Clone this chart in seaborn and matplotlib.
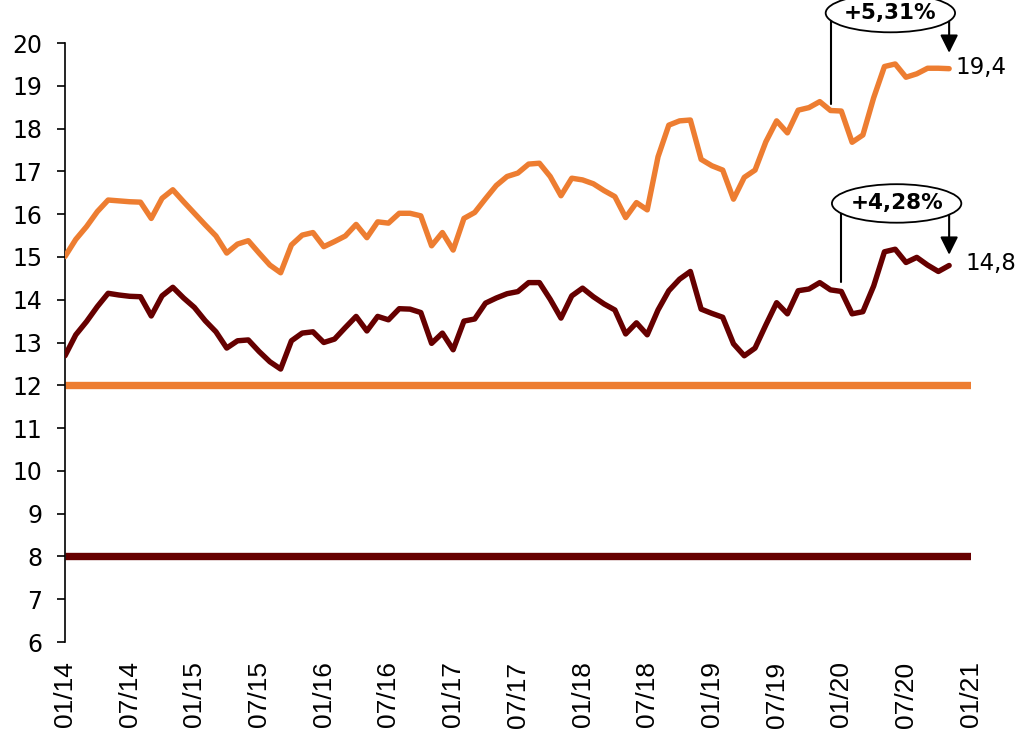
import numpy as np
import pandas as pd
import matplotlib
matplotlib.use("Agg")
import matplotlib.pyplot as plt
from matplotlib.patches import Ellipse
import seaborn as sns

# Monthly series, January 2014 .. November 2020
orange_series = [
    15.01, 15.41, 15.71, 16.06, 16.33, 16.31, 16.29, 16.28, 15.90, 16.37, 16.57, 16.29,
    16.02, 15.75, 15.49, 15.09, 15.30, 15.38, 15.09, 14.81, 14.63, 15.28, 15.51, 15.57,
    15.24, 15.36, 15.49, 15.76, 15.45, 15.82, 15.79, 16.02, 16.02, 15.96, 15.26, 15.57,
    15.16, 15.90, 16.04, 16.36, 16.67, 16.88, 16.96, 17.17, 17.19, 16.88, 16.43, 16.84,
    16.80, 16.71, 16.55, 16.41, 15.92, 16.27, 16.10, 17.34, 18.08, 18.18, 18.20, 17.28,
    17.13, 17.03, 16.35, 16.86, 17.03, 17.69, 18.18, 17.90, 18.43, 18.49, 18.63, 18.422,
    18.41, 17.68, 17.85, 18.72, 19.45, 19.51, 19.20, 19.28, 19.41, 19.41, 19.40,
]
dark_series = [
    12.69, 13.18, 13.49, 13.84, 14.15, 14.11, 14.08, 14.07, 13.62, 14.09, 14.29, 14.04,
    13.82, 13.51, 13.25, 12.87, 13.04, 13.06, 12.79, 12.55, 12.38, 13.04, 13.22, 13.25,
    13.00, 13.08, 13.35, 13.61, 13.27, 13.61, 13.53, 13.79, 13.78, 13.70, 12.98, 13.22,
    12.83, 13.50, 13.55, 13.92, 14.04, 14.14, 14.19, 14.40, 14.40, 14.01, 13.57, 14.09,
    14.27, 14.07, 13.90, 13.76, 13.20, 13.46, 13.18, 13.76, 14.21, 14.48, 14.66, 13.78,
    13.68, 13.59, 12.97, 12.69, 12.87, 13.41, 13.93, 13.67, 14.21, 14.25, 14.40, 14.23,
    14.193, 13.67, 13.72, 14.32, 15.12, 15.18, 14.87, 14.99, 14.81, 14.66, 14.80,
]
orange_floor = 12
dark_floor = 8

# Base months for the change labels (Dec 2019 and Jan 2020)
orange_base_idx = 71
dark_base_idx = 72

tick_labels = ["01/14", "07/14", "01/15", "07/15", "01/16", "07/16", "01/17", "07/17",
               "01/18", "07/18", "01/19", "07/19", "01/20", "07/20", "01/21"]

ORANGE = "#ED7D31"
DARK = "#660000"

months = np.arange(len(orange_series))
df = pd.DataFrame({"month": months, "orange": orange_series, "dark": dark_series})

sns.set_style("white")
plt.rcParams["font.family"] = ["DejaVu Sans"]
plt.rcParams["text.color"] = "black"
plt.rcParams["xtick.color"] = "black"
plt.rcParams["ytick.color"] = "black"
plt.rcParams["axes.labelcolor"] = "black"

fig = plt.figure(figsize=(10.21, 7.37), dpi=100)
ax = fig.add_axes([65 / 1021, 1 - 642 / 737, (970.7 - 65) / 1021, (642 - 43) / 737])

ax.axhline(orange_floor, color=ORANGE, lw=5.3, solid_capstyle="butt", zorder=2)
ax.axhline(dark_floor, color=DARK, lw=5.3, solid_capstyle="butt", zorder=2)

sns.lineplot(data=df, x="month", y="orange", ax=ax, color=ORANGE, lw=3.9, zorder=3)
sns.lineplot(data=df, x="month", y="dark", ax=ax, color=DARK, lw=3.9, zorder=3)
for ln in ax.lines[-2:]:
    ln.set_solid_capstyle("round")
    ln.set_solid_joinstyle("round")

ax.set_xlim(0, 84)
ax.set_ylim(6, 20)
ax.set_xlabel("")
ax.set_ylabel("")

ax.set_xticks(np.arange(0, 85, 6))
ax.set_xticklabels(tick_labels, rotation=90, fontsize=19, family="Liberation Sans",
                   color="black")
ax.set_yticks(np.arange(6, 21, 1))
ax.set_yticklabels([str(v) for v in range(6, 21)], fontsize=17, color="black")
ax.tick_params(axis="x", length=0, pad=14)
ax.tick_params(axis="y", direction="out", length=5.8, width=1.2, pad=10.5, color="black",
               left=True)

for side in ("top", "right", "bottom"):
    ax.spines[side].set_visible(False)
ax.spines["left"].set_color("black")
ax.spines["left"].set_linewidth(1.2)
ax.grid(False)


def change_label(series, base_idx, ell_x, ell_y, line_gap, tip_gap, val_dx, val_dy):
    last_idx = len(series) - 1
    last = series[last_idx]
    base = series[base_idx]
    pct = (last / base - 1) * 100
    txt = ("+%.2f%%" % pct).replace(".", ",")
    # vertical connector from the bubble down to the base month
    ax.plot([base_idx, base_idx], [ell_y, base + line_gap], color="black", lw=1.5,
            clip_on=False, zorder=4)
    # arrow from the bubble to the latest value
    ax.annotate("", xy=(last_idx, last + tip_gap), xytext=(last_idx, ell_y),
                arrowprops=dict(arrowstyle="-|>,head_length=0.4,head_width=0.2",
                                mutation_scale=27, color="black", lw=1.5,
                                shrinkA=0, shrinkB=0),
                annotation_clip=False, zorder=4)
    ell = Ellipse((ell_x, ell_y), width=12.0, height=0.9, facecolor="white",
                  edgecolor="black", lw=1.3, clip_on=False, zorder=5)
    ax.add_patch(ell)
    ax.text(ell_x, ell_y, txt, ha="center", va="center", fontsize=15.5,
            fontweight="bold", color="black", zorder=6, clip_on=False)
    ax.text(last_idx + val_dx, last + val_dy, ("%.1f" % last).replace(".", ","),
            ha="left", va="center", fontsize=16.5, color="black", zorder=6, clip_on=False)


change_label(orange_series, orange_base_idx, 76.55, 20.70, 0.15, 0.37, 0.55, 0.02)
change_label(dark_series, dark_base_idx, 77.13, 16.25, 0.21, 0.25, 1.55, 0.05)

fig.savefig("out.png", dpi=100)
